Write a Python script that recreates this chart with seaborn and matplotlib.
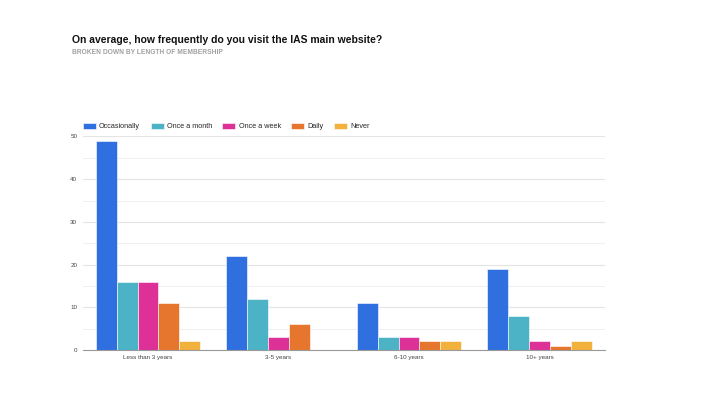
import pandas as pd
import matplotlib
matplotlib.use("Agg")
import matplotlib.pyplot as plt
import seaborn as sns

# Data
groups = ["Less than 3 years", "3-5 years", "6-10 years", "10+ years"]
frequencies = ["Occasionally", "Once a month", "Once a week", "Daily", "Never"]
occasionally = [49, 22, 11, 19]
once_a_month = [16, 12, 3, 8]
once_a_week = [16, 3, 3, 2]
daily = [11, 6, 2, 1]
never = [2, 0, 2, 2]
colors = ["#2f6fe0", "#4cb2c6", "#dd3197", "#e6762d", "#f2b03c"]

series = [occasionally, once_a_month, once_a_week, daily, never]
rows = []
for freq, vals in zip(frequencies, series):
    for g, v in zip(groups, vals):
        rows.append({"membership": g, "frequency": freq, "count": v})
df = pd.DataFrame(rows)

sns.set_style("white")
plt.rcParams["font.family"] = ["Liberation Sans", "DejaVu Sans"]

fig = plt.figure(figsize=(7.2, 4.05), dpi=100)
ax = fig.add_axes([0.115, 0.136, 0.725, 0.527])

sns.barplot(data=df, x="membership", y="count", hue="frequency",
            hue_order=frequencies, order=groups, palette=colors,
            width=0.8, saturation=1, edgecolor="white", linewidth=0.4, ax=ax)

ax.set_ylim(0, 50)
ax.set_yticks([0, 10, 20, 30, 40, 50])
ax.set_yticks([5, 15, 25, 35, 45], minor=True)
ax.grid(axis="y", which="major", color="#e4e4e4", linewidth=0.8)
ax.grid(axis="y", which="minor", color="#f0f0f0", linewidth=0.8)
ax.set_axisbelow(True)
ax.tick_params(axis="both", which="both", length=0, labelsize=4.5, colors="#444444", pad=4)
ax.set_xlabel("")
ax.set_ylabel("")
for s in ["top", "right", "left"]:
    ax.spines[s].set_visible(False)
ax.spines["bottom"].set_color("#999999")
ax.spines["bottom"].set_linewidth(0.8)

ax.legend(loc="lower left", bbox_to_anchor=(0.0, 1.03), ncol=5, frameon=False,
          fontsize=5.2, handlelength=1.8, handleheight=0.9, columnspacing=1.45,
          handletextpad=0.45, borderaxespad=0, borderpad=0)

fig.text(0.1, 0.895, "On average, how frequently do you visit the IAS main website?",
         fontsize=7.5, fontweight="bold", color="#111111")
fig.text(0.1, 0.866, "BROKEN DOWN BY LENGTH OF MEMBERSHIP",
         fontsize=4.8, fontweight="bold", color="#a0a0a0")

fig.savefig("out.png", dpi=100)
